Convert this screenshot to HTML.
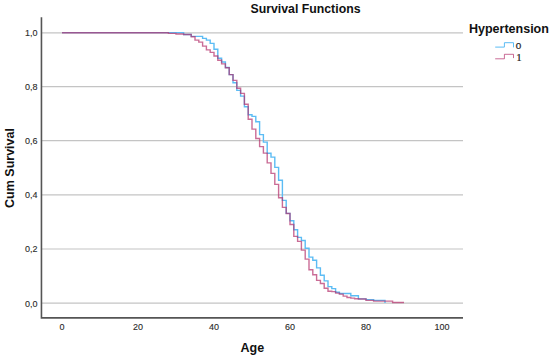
<!DOCTYPE html>
<html><head><meta charset="utf-8">
<style>
html,body{margin:0;padding:0;background:#fff;}
body{width:550px;height:357px;overflow:hidden;position:relative;}
svg{position:absolute;left:0;top:0;}
text{font-family:"Liberation Sans",sans-serif;}
</style></head>
<body>
<svg width="550" height="357" viewBox="0 0 550 357">
<rect x="0" y="0" width="550" height="357" fill="#fff"/>
<!-- gridlines -->
<g stroke="#c4c4c4" stroke-width="1.2">
<line x1="41" y1="32.8" x2="463" y2="32.8"/>
<line x1="41" y1="86.6" x2="463" y2="86.6"/>
<line x1="41" y1="140.6" x2="463" y2="140.6"/>
<line x1="41" y1="194.8" x2="463" y2="194.8"/>
<line x1="41" y1="249" x2="463" y2="249"/>
<line x1="41" y1="303.2" x2="463" y2="303.2"/>
</g>
<!-- axes -->
<g stroke="#555" stroke-width="1.6" fill="none">
<path d="M41.45 17.3 V317.85 H463"/>
</g>
<!-- y tick labels -->
<g font-size="9" fill="#2b2b2b" stroke="#2b2b2b" stroke-width="0.12" text-anchor="end">
<text x="37.5" y="36.3">1,0</text>
<text x="37.5" y="90.1">0,8</text>
<text x="37.5" y="144.1">0,6</text>
<text x="37.5" y="198.2">0,4</text>
<text x="37.5" y="252.4">0,2</text>
<text x="37.5" y="306.6">0,0</text>
</g>
<!-- x tick labels -->
<g font-size="9" fill="#2b2b2b" stroke="#2b2b2b" stroke-width="0.12" text-anchor="middle">
<text x="62" y="330">0</text>
<text x="138" y="330">20</text>
<text x="214" y="330">40</text>
<text x="290" y="330">60</text>
<text x="366" y="330">80</text>
<text x="442" y="330">100</text>
</g>
<!-- titles -->
<text x="305.5" y="12.8" font-size="12.3" font-weight="bold" fill="#111" text-anchor="middle">Survival Functions</text>
<text x="252.3" y="351.9" font-size="12.5" font-weight="bold" fill="#111" text-anchor="middle">Age</text>
<text transform="translate(13.9,168) rotate(-90)" font-size="12.5" font-weight="bold" fill="#111" text-anchor="middle">Cum Survival</text>
<!-- legend -->
<text x="469" y="33.1" font-size="12.5" font-weight="bold" fill="#111">Hypertension</text>
<path d="M495.2 47.1 H504.4 V42.7 H513.5 V47.4" stroke="#5cbcf4" stroke-width="1" fill="none"/>
<path d="M495.2 58.8 H504.4 V54.3 H513.5 V58.1" stroke="#b42d69" stroke-opacity="0.7" stroke-width="1" fill="none"/>
<g font-size="10" fill="#222" stroke="#222" stroke-width="0.2">
<text transform="translate(515.7,48.5) scale(1.15,1)" font-size="8.6">0</text>
<text x="516.2" y="60.8" style="font-family:'Liberation Serif',serif" font-size="11">1</text>
</g>
<!-- curves -->
<g id="curves" fill="none" stroke-width="1.4" stroke-linejoin="miter" stroke-linecap="butt">
<path d="M62.0 32.6H183.6V34.5H191.2V36.4H202.6V38.4H206.4V40.1H210.2V43.4H214.0V49.2H217.8V58.3H221.6V62.0H225.4V67.5H229.2V74.6H233.0V82.8H236.8V90.4H240.6V96.1H244.4V106.8H248.2V114.7H252.0V116.4H255.8V121.7H259.6V134.6H263.4V142.1H267.2V153.3H271.0V157.1H274.8V167.4H278.6V180.3H282.4V200.4H286.2V213.4H290.0V220.8H293.8V229.7H297.6V237.4H301.4V240.5H305.2V248.3H309.0V257.1H312.8V260.3H316.6V267.9H320.4V275.3H324.2V280.9H328.0V286.6H331.8V288.6H335.6V292.3H339.4V293.5H350.8V295.7H358.4V298.9H366.0V299.6H373.6V300.4H385.0V303.0H385.0" stroke="#5cbcf4"/>
<path d="M62.0 32.8H168.4V33.4H176.0V34.0H183.6V34.5H191.2V36.7H195.0V40.1H198.8V42.1H202.6V46.1H206.4V49.9H210.2V52.4H214.0V56.0H217.8V60.2H221.6V63.9H225.4V67.8H229.2V74.6H233.0V80.4H236.8V88.3H240.6V93.4H244.4V104.3H248.2V119.3H252.0V129.1H255.8V138.5H259.6V146.6H263.4V153.1H267.2V162.9H271.0V173.4H274.8V184.4H278.6V197.7H282.4V207.4H286.2V213.5H290.0V224.5H293.8V236.4H297.6V241.4H301.4V250.1H305.2V259.1H309.0V269.8H312.8V274.8H316.6V280.4H320.4V283.5H324.2V288.3H328.0V291.3H331.8V291.6H335.6V293.1H339.4V294.1H343.2V296.1H347.0V297.5H350.8V298.1H354.6V298.8H358.4V299.0H366.0V300.4H373.6V301.1H392.6V302.5H404.0" stroke="#b42d69" stroke-opacity="0.7"/>
</g>
</svg>
</body></html>
